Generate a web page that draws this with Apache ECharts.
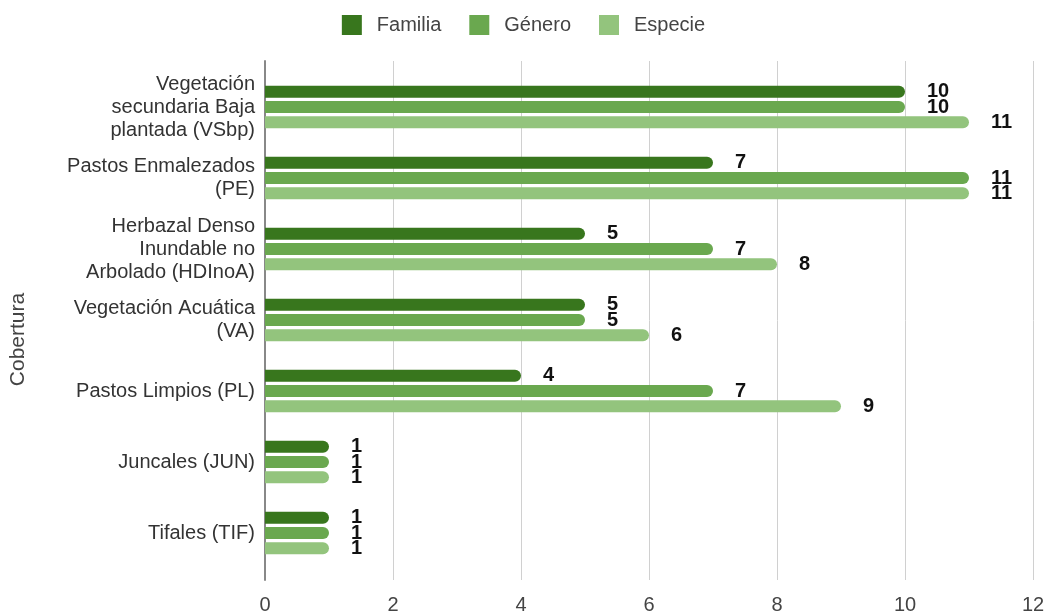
<!DOCTYPE html>
<html>
<head>
<meta charset="utf-8">
<script src="https://cdn.jsdelivr.net/npm/echarts@6/dist/echarts.min.js"></script>
<style>html,body{margin:0;padding:0;background:#fff}#c{width:1047px;height:611px}</style>
</head>
<body>
<div id="c"></div>
<script>
const categories = [
  "Vegetación\nsecundaria Baja\nplantada (VSbp)",
  "Pastos Enmalezados\n(PE)",
  "Herbazal Denso\nInundable no\nArbolado (HDInoA)",
  "Vegetación Acuática\n(VA)",
  "Pastos Limpios (PL)",
  "Juncales (JUN)",
  "Tifales (TIF)"
];
const familia = [10, 7, 5, 5, 4, 1, 1];
const genero  = [10, 11, 7, 5, 7, 1, 1];
const especie = [11, 11, 8, 6, 9, 1, 1];
const seriesNames = ["Familia", "Género", "Especie"];
const xTicks = [0, 2, 4, 6, 8, 10, 12];
const axisTitle = "Cobertura";

const colors = ["#38761d", "#6aa84f", "#93c47d"];
const font = "'Liberation Sans', Arial, sans-serif";

const chart = echarts.init(document.getElementById('c'), null, {renderer: 'canvas'});
function mkSeries(name, data, color) {
  return {
    name: name, type: 'bar', data: data,
    xAxisIndex: 1, yAxisIndex: 1,
    barWidth: 12, barGap: '28%',
    itemStyle: {color: color, borderRadius: [0, 6, 6, 0]},
    label: {
      show: true, position: 'right', distance: 22,
      color: '#111', fontWeight: 'bold', fontSize: 20, fontFamily: font
    }
  };
}
chart.setOption({
  animation: false,
  color: colors,
  legend: {
    data: seriesNames,
    top: 10, left: 'center',
    icon: 'rect',
    itemWidth: 20, itemHeight: 20, itemGap: 28,
    textStyle: {fontSize: 20, color: '#444', fontFamily: font, padding: [0, 0, 0, 10]}
  },
  grid: [
    {left: 265, right: 14, top: 61, bottom: 31, containLabel: false, outerBoundsMode: 'none'},
    {left: 265, right: 14, top: 71.5, bottom: 42.5, containLabel: false, outerBoundsMode: 'none'}
  ],
  xAxis: [
    {
      gridIndex: 0, type: 'value', min: xTicks[0], max: xTicks[xTicks.length - 1], interval: 2,
      axisLine: {show: false}, axisTick: {show: false},
      splitLine: {show: true, lineStyle: {color: '#d0d0d0', width: 1}},
      axisLabel: {fontSize: 20, color: '#444', fontFamily: font, margin: 15,
        formatter: v => xTicks.includes(v) ? String(v) : ''}
    },
    {
      gridIndex: 1, type: 'value', min: xTicks[0], max: xTicks[xTicks.length - 1], interval: 2,
      show: false
    }
  ],
  yAxis: [
    {
      gridIndex: 0, type: 'category', data: categories, inverse: true,
      axisLine: {show: true, lineStyle: {color: '#888', width: 2}},
      axisTick: {show: false}, axisLabel: {show: false},
      name: axisTitle, nameLocation: 'middle', nameGap: 236, nameRotate: 90,
      nameTextStyle: {fontSize: 21, color: '#444', fontFamily: font, padding: [0, 38, 0, 0]}
    },
    {
      gridIndex: 1, type: 'category', data: categories, inverse: true,
      axisLine: {show: false}, axisTick: {show: false},
      axisLabel: {fontSize: 20, color: '#333', fontFamily: font, margin: 10,
        lineHeight: 23, align: 'right'}
    }
  ],
  series: [
    mkSeries(seriesNames[0], familia, colors[0]),
    mkSeries(seriesNames[1], genero, colors[1]),
    mkSeries(seriesNames[2], especie, colors[2])
  ]
});
</script>
</body>
</html>
